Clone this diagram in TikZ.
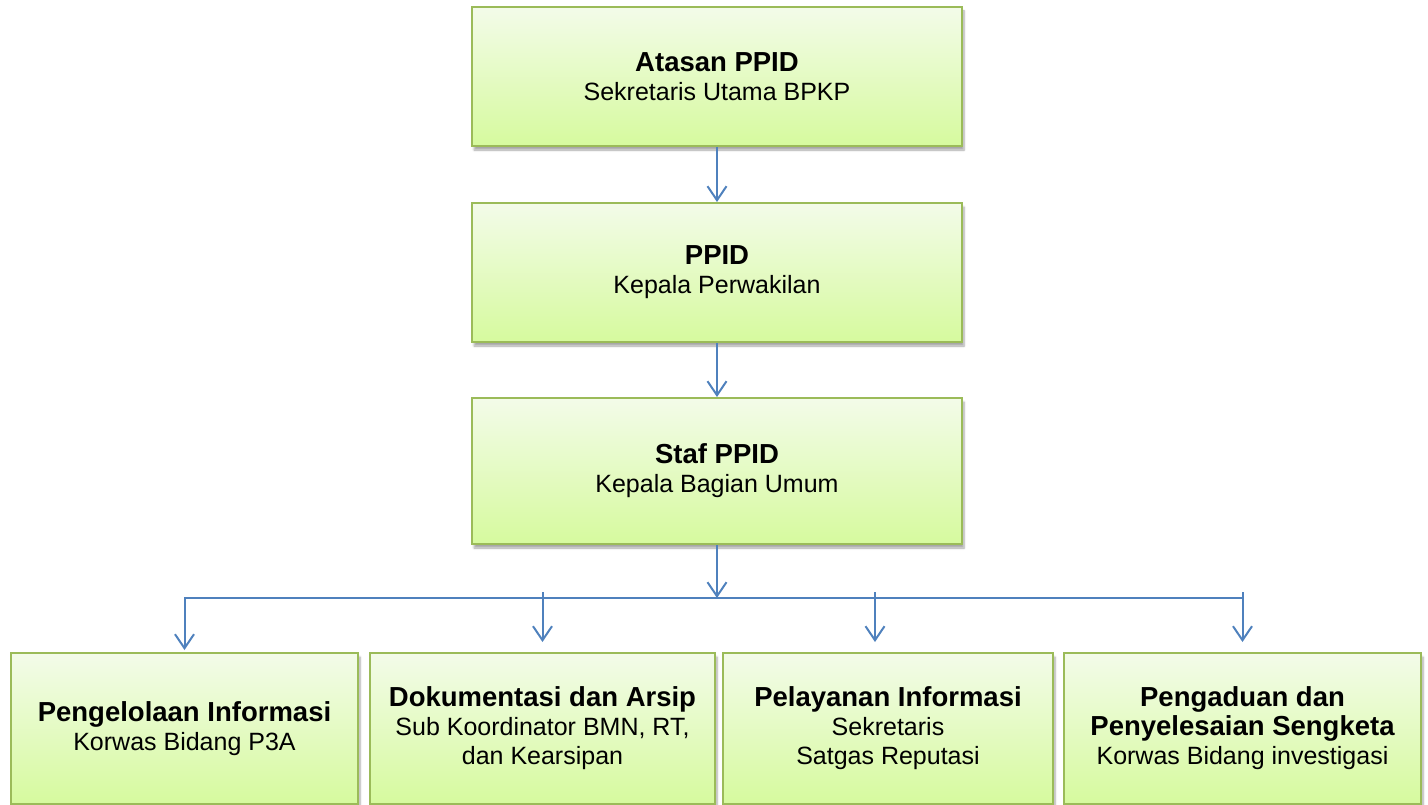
\documentclass[tikz,border=0pt]{standalone}
\usepackage{fontspec}
\setmainfont{Liberation Sans}
\usepackage{tikz}
\usetikzlibrary{arrows.meta}
\usetikzlibrary{positioning,calc}
\usetikzlibrary{shadows.blur}
\definecolor{unitgreen}{RGB}{155,187,89}
\definecolor{unittop}{RGB}{243,251,233}
\definecolor{unitbottom}{RGB}{214,250,158}
\definecolor{linkblue}{RGB}{79,129,189}
\newcommand{\unittitle}[1]{{\fontsize{27.5}{30}\selectfont\bfseries #1}}
\tikzstyle{unit} = [rectangle, draw=unitgreen, line width=2pt, top color=unittop, bottom color=unitbottom, align=center, font=\fontsize{25}{29}\selectfont, inner sep=4pt, blur shadow={shadow xshift=2pt, shadow yshift=-4pt, shadow opacity=35, shadow blur steps=6}]
\tikzstyle{unit_top} = [unit, minimum width=490pt, minimum height=139pt]
\tikzstyle{unit_sub} = [unit, minimum height=151pt]
\tikzstyle{link} = [draw=linkblue, line width=2pt]
\tikzstyle{arrow_link} = [link, -{Straight Barb[length=14pt,width=19pt]}]

\begin{document}
\begin{tikzpicture}[x=1pt, y=-1pt, node distance=56pt]
      \useasboundingbox (0,0) rectangle (1428,805);

      % Pimpinan
      \node[unit_top] (atasan) at (717,76.5) {\unittitle{Atasan PPID}\\Sekretaris Utama BPKP};
      \node[unit_top] (ppid) [below=55pt of atasan] {\unittitle{PPID}\\Kepala Perwakilan};
      \node[unit_top, minimum height=146pt] (staf) [below=54pt of ppid] {\unittitle{Staf PPID}\\Kepala Bagian Umum};

      % Bidang
      \node[unit_sub, minimum width=347pt, anchor=north west] (pengelolaan) at (10,652) {\unittitle{Pengelolaan Informasi}\\Korwas Bidang P3A};
      \node[unit_sub, minimum width=345pt] (dokumentasi) [right=10pt of pengelolaan] {\unittitle{Dokumentasi dan Arsip}\\Sub Koordinator BMN, RT,\\dan Kearsipan};
      \node[unit_sub, minimum width=330pt] (pelayanan) [right=6pt of dokumentasi] {\unittitle{Pelayanan Informasi}\\Sekretaris\\Satgas Reputasi};
      \node[unit_sub, minimum width=357pt] (pengaduan) [right=9pt of pelayanan] {\unittitle{Pengaduan dan}\\\unittitle{Penyelesaian Sengketa}\\Korwas Bidang investigasi};

      % Pimpinan arrows
      \path[arrow_link] (atasan) -- (ppid);
      \path[arrow_link] (ppid) -- (staf);

      % Bus
      \coordinate[below=53pt of staf] (bus);
      \coordinate (busA) at (pengelolaan.north |- bus);
      \coordinate (busB) at (dokumentasi.north |- bus);
      \coordinate (busC) at ($(pelayanan.north |- bus)+(-13,0)$);
      \coordinate (busD) at (pengaduan.north |- bus);
      \path[arrow_link] (staf) -- (bus);

      % Bidang arrows
      \path[arrow_link, shorten >=2pt] (busD) -- (busA) -- (pengelolaan.north);
      \path[arrow_link, shorten >=10pt] ([yshift=6pt]busB) -- (dokumentasi.north);
      \path[arrow_link, shorten >=10pt] ([yshift=6pt]busC) -- (busC |- pelayanan.north);
      \path[arrow_link, shorten >=10pt] ([yshift=6pt]busD) -- (pengaduan.north);

\end{tikzpicture}
\end{document}
